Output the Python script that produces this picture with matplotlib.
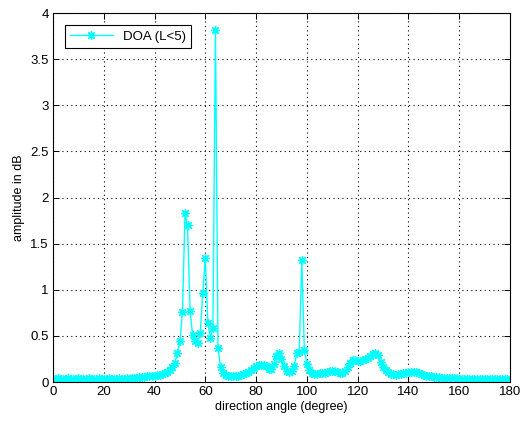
import numpy as np
import matplotlib
matplotlib.use("Agg")
import matplotlib.pyplot as plt

plt.rcParams['font.family'] = ['Liberation Sans', 'DejaVu Sans']

# direction angle grid (degrees) and estimated DOA amplitude spectrum
angles = list(range(0, 181))

amp_0_30 = [0.035, 0.03, 0.04, 0.03, 0.035, 0.03, 0.04, 0.035, 0.03, 0.035,
            0.04, 0.03, 0.035, 0.03, 0.04, 0.035, 0.03, 0.035, 0.04, 0.03,
            0.035, 0.03, 0.04, 0.035, 0.03, 0.035, 0.04, 0.035, 0.03, 0.04,
            0.035]
amp_31_48 = [0.04, 0.045, 0.045, 0.05, 0.05, 0.055, 0.06, 0.065, 0.07, 0.07,
             0.075, 0.08, 0.09, 0.10, 0.11, 0.13, 0.16, 0.21]
amp_49_66 = [0.31, 0.44, 0.76, 1.83, 1.70, 0.77, 0.51, 0.44, 0.42, 0.53,
             0.96, 1.35, 0.64, 0.48, 0.59, 3.82, 0.37, 0.16]
amp_67_101 = [0.10, 0.08, 0.07, 0.06, 0.06, 0.065, 0.07, 0.08, 0.09, 0.10,
              0.11, 0.13, 0.15, 0.17, 0.19, 0.19, 0.18, 0.17, 0.14, 0.14,
              0.20, 0.28, 0.31, 0.25, 0.17, 0.12, 0.11, 0.12, 0.17, 0.31,
              0.33, 1.32, 0.35, 0.20, 0.13]
amp_102_150 = [0.10, 0.09, 0.09, 0.095, 0.10, 0.10, 0.11, 0.12, 0.12, 0.115,
               0.11, 0.10, 0.10, 0.12, 0.16, 0.21, 0.24, 0.24, 0.23, 0.23,
               0.24, 0.25, 0.26, 0.28, 0.30, 0.31, 0.29, 0.22, 0.16, 0.13,
               0.11, 0.09, 0.085, 0.08, 0.085, 0.09, 0.095, 0.10, 0.105, 0.11,
               0.11, 0.11, 0.10, 0.09, 0.08, 0.07, 0.065, 0.06, 0.055]
amp_151_180 = [0.05, 0.05, 0.045, 0.045, 0.04, 0.045, 0.04, 0.04, 0.04, 0.035,
               0.035, 0.03, 0.035, 0.03, 0.035, 0.03, 0.035, 0.03, 0.035, 0.03,
               0.035, 0.03, 0.035, 0.03, 0.035, 0.03, 0.035, 0.03, 0.035, 0.03]

amplitude = amp_0_30 + amp_31_48 + amp_49_66 + amp_67_101 + amp_102_150 + amp_151_180

x_ticks = [0, 20, 40, 60, 80, 100, 120, 140, 160, 180]
y_ticks = [0, 0.5, 1, 1.5, 2, 2.5, 3, 3.5, 4]
y_tick_labels = ['0', '0.5', '1', '1.5', '2', '2.5', '3', '3.5', '4']

fig = plt.figure(figsize=(5.22, 4.24), dpi=100)
ax = fig.add_axes([0.1015, 0.099, 0.8755, 0.870])

# eight-armed asterisk marker, like a '+' laid over an 'x'
asterisk = (8, 2, 0)
ax.plot(angles, amplitude, color='#00ffff', linewidth=1.0, marker=asterisk,
        markersize=6.5, markeredgewidth=0.9, label='DOA (L<5)')

ax.set_xlim(0, 180)
ax.set_ylim(0, 4)
ax.set_xticks(x_ticks)
ax.set_yticks(y_ticks)
ax.set_yticklabels(y_tick_labels)
ax.grid(True, color='black', linestyle=(0, (1, 3)), linewidth=0.8)
ax.tick_params(direction='in', top=True, right=True, length=4, labelsize=9.5,
               width=0.7, pad=3)
for s in ax.spines.values():
    s.set_linewidth(0.8)

ax.set_xlabel('direction angle (degree)', fontsize=9, labelpad=2)
ax.set_ylabel('amplitude in dB', fontsize=9, labelpad=4)

leg = ax.legend(loc='upper left', fontsize=9.5, fancybox=False,
                edgecolor='black', framealpha=1, borderpad=0.4,
                handlelength=3.2, bbox_to_anchor=(0.012, 0.985))
leg.get_frame().set_linewidth(0.8)

fig.savefig('out.png', dpi=100)
